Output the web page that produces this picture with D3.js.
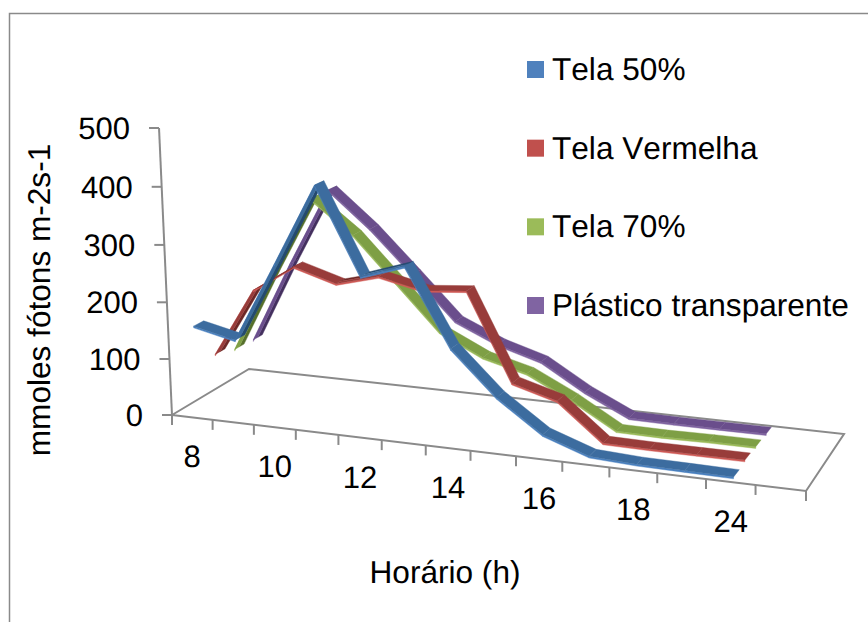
<!DOCTYPE html>
<html>
<head>
<meta charset="utf-8">
<script src="https://cdn.jsdelivr.net/npm/d3@7"></script>
<style>
  html, body { margin: 0; padding: 0; background: #fff; }
  text { font-family: "Liberation Sans", Arial, sans-serif; fill: #000; text-rendering: geometricPrecision; font-kerning: none; }
</style>
</head>
<body>
<script>
svgWidth = 868
svgHeight = 622

// 14 slots on the axis, the last one has no data
var categories = ['8', '9', '10', '11', '12', '13', '14', '15', '16', '17', '18', '19', '24', '']
var tickLabels = ['8', '10', '12', '14', '16', '18', '24']
var yTicks = [0, 100, 200, 300, 400, 500]
var seriesNames = ['Tela 50%', 'Tela Vermelha', 'Tela 70%', 'Plástico transparente']

var tela50 = [157, 140, 278, 418, 270, 294, 163, 89, 35, 8, 4, 3, 2]
var telaVermelha = [87, 209, 257, 234, 253, 236, 242, 92, 70, 7, 6, 6, 6]
var tela70 = [76, 222, 360, 302, 224, 145, 108, 88, 50, 5, 4, 5, 5]
var plastico = [74, 222, 361, 297, 222, 145, 111, 88, 42, 5, 4, 4, 4]

var seriesValues = [tela50, telaVermelha, tela70, plastico]
var legendColors = ['#4f81bd', '#c0504d', '#9bbb59', '#8064a2']
var topColors = ['#3c6c9f', '#983c3a', '#7e9f45', '#6a4e8c']
var darkColors = ['#244a70', '#6e2826', '#56702c', '#44305f']
var edgeColors = ['#4a80bf', '#cf5a56', '#9bbb59', '#8064a2']

xScale = d3.scaleBand().domain(categories).range([0, 1])
yScale = d3.scaleLinear().domain([0, 500]).range([0, 1])
zScale = d3.scaleBand().domain(seriesNames).range([0, 1])

// floor corners on screen: front left, front right, back right, back left
var floor = [[172, 415], [806, 491], [844, 434], [249, 369]]
var project = makeProjection(floor, -17.8, -290.9, -0.0303)

ribbon = 0.125
thick = 3

var svg = d3.select('body').append('svg')
  .attr('width', svgWidth)
  .attr('height', svgHeight)
  .style('display', 'block')

// outer frame
svg.append('path')
  .attr('d', 'M9.5,622V13.5H868')
  .attr('fill', 'none')
  .attr('stroke', '#8a8a8a')
  .attr('stroke-width', 1.5)

// floor and axes
var axisGroup = svg.append('g')
  .attr('fill', 'none')
  .attr('stroke', '#8a8a8a')
  .attr('stroke-width', 2)

var corners = [[0, 0], [1, 0], [1, 1], [0, 1]].map(function(c) {
  return project(c[0], c[1], 0)
})
axisGroup.append('path').attr('d', 'M' + corners.join('L') + 'Z')
axisGroup.append('path').attr('d', 'M' + project(0, 0, 0) + 'L' + project(0, 0, 1))

yTicks.forEach(function(t) {
  var p = project(0, 0, yScale(t))
  axisGroup.append('path').attr('d', 'M' + p + 'l-10,0')
  svg.append('text')
    .attr('x', p[0] - 29)
    .attr('y', p[1] + 11)
    .attr('text-anchor', 'end')
    .attr('font-size', 31)
    .text(t)
})

categories.forEach(function(c, i) {
  var p = project(i / categories.length, 0, 0)
  axisGroup.append('path').attr('d', 'M' + p + 'l0,10')
})
var endTick = project(1, 0, 0)
axisGroup.append('path').attr('d', 'M' + endTick + 'l0,10')

tickLabels.forEach(function(t) {
  var p = project(xScale(t) + xScale.bandwidth() / 2, 0, 0)
  svg.append('text')
    .attr('x', p[0])
    .attr('y', p[1] + 50)
    .attr('text-anchor', 'middle')
    .attr('font-size', 31)
    .text(t)
})

// ribbons, back series first
for (var s = seriesNames.length - 1; s >= 0; s--) {
  drawRibbon(s)
}

function drawRibbon(s) {
  var g = svg.append('g')
  var values = seriesValues[s]
  var mid = zScale(seriesNames[s]) + zScale.bandwidth() / 2
  var front = mid - ribbon / 2
  var back = mid + ribbon / 2

  for (var i = 0; i < values.length - 1; i++) {
    var u0 = xScale(categories[i]) + xScale.bandwidth() / 2
    var u1 = xScale(categories[i + 1]) + xScale.bandwidth() / 2
    var h0 = yScale(values[i])
    var h1 = yScale(values[i + 1])
    var low0 = yScale(values[i] - thick)
    var low1 = yScale(values[i + 1] - thick)
    var rising = values[i + 1] > values[i] + 15

    quad(g, [[u0, front, low0], [u1, front, low1], [u1, front, h1], [u0, front, h0]], edgeColors[s])
    if (rising) {
      quad(g, [[u0, mid, h0], [u1, mid, h1], [u1, back, h1], [u0, back, h0]], darkColors[s])
      quad(g, [[u0, front, h0], [u1, front, h1], [u1, mid, h1], [u0, mid, h0]], topColors[s])
    } else {
      quad(g, [[u0, front, h0], [u1, front, h1], [u1, back, h1], [u0, back, h0]], topColors[s])
    }
  }
}

function quad(g, pts, color) {
  g.append('path')
    .attr('d', 'M' + pts.map(function(p) { return project(p[0], p[1], p[2]) }).join('L') + 'Z')
    .attr('fill', color)
    .attr('stroke', color)
    .attr('stroke-width', 0.4)
}

// legend
var legendY = d3.scalePoint().domain(seriesNames).range([61, 297])
seriesNames.forEach(function(name, i) {
  svg.append('rect')
    .attr('x', 527)
    .attr('y', legendY(name))
    .attr('width', 17)
    .attr('height', 17)
    .attr('fill', legendColors[i])
  svg.append('text')
    .attr('x', 552)
    .attr('y', legendY(name) + 19)
    .attr('font-size', 31.6)
    .text(name)
})

// axis titles
svg.append('text')
  .attr('transform', 'translate(50,300) rotate(-90)')
  .attr('text-anchor', 'middle')
  .attr('font-size', 31.6)
  .text('mmoles fótons m-2s-1')

svg.append('text')
  .attr('x', 445)
  .attr('y', 583)
  .attr('text-anchor', 'middle')
  .attr('font-size', 31.6)
  .text('Horário (h)')

// maps (u, depth, height), all 0..1, to the screen with a plain perspective matrix
function makeProjection(q, riseX, riseY, riseW) {
  var dx1 = q[1][0] - q[2][0], dx2 = q[3][0] - q[2][0], sx = q[0][0] - q[1][0] + q[2][0] - q[3][0]
  var dy1 = q[1][1] - q[2][1], dy2 = q[3][1] - q[2][1], sy = q[0][1] - q[1][1] + q[2][1] - q[3][1]
  var den = dx1 * dy2 - dx2 * dy1
  var g = (sx * dy2 - dx2 * sy) / den
  var h = (dx1 * sy - sx * dy1) / den
  var a = q[1][0] - q[0][0] + g * q[1][0]
  var b = q[3][0] - q[0][0] + h * q[3][0]
  var d = q[1][1] - q[0][1] + g * q[1][1]
  var e = q[3][1] - q[0][1] + h * q[3][1]
  return function(u, v, t) {
    var w = g * u + h * v + 1 + riseW * t
    return [(a * u + b * v + q[0][0] + riseX * t) / w, (d * u + e * v + q[0][1] + riseY * t) / w]
  }
}
</script>
</body>
</html>
